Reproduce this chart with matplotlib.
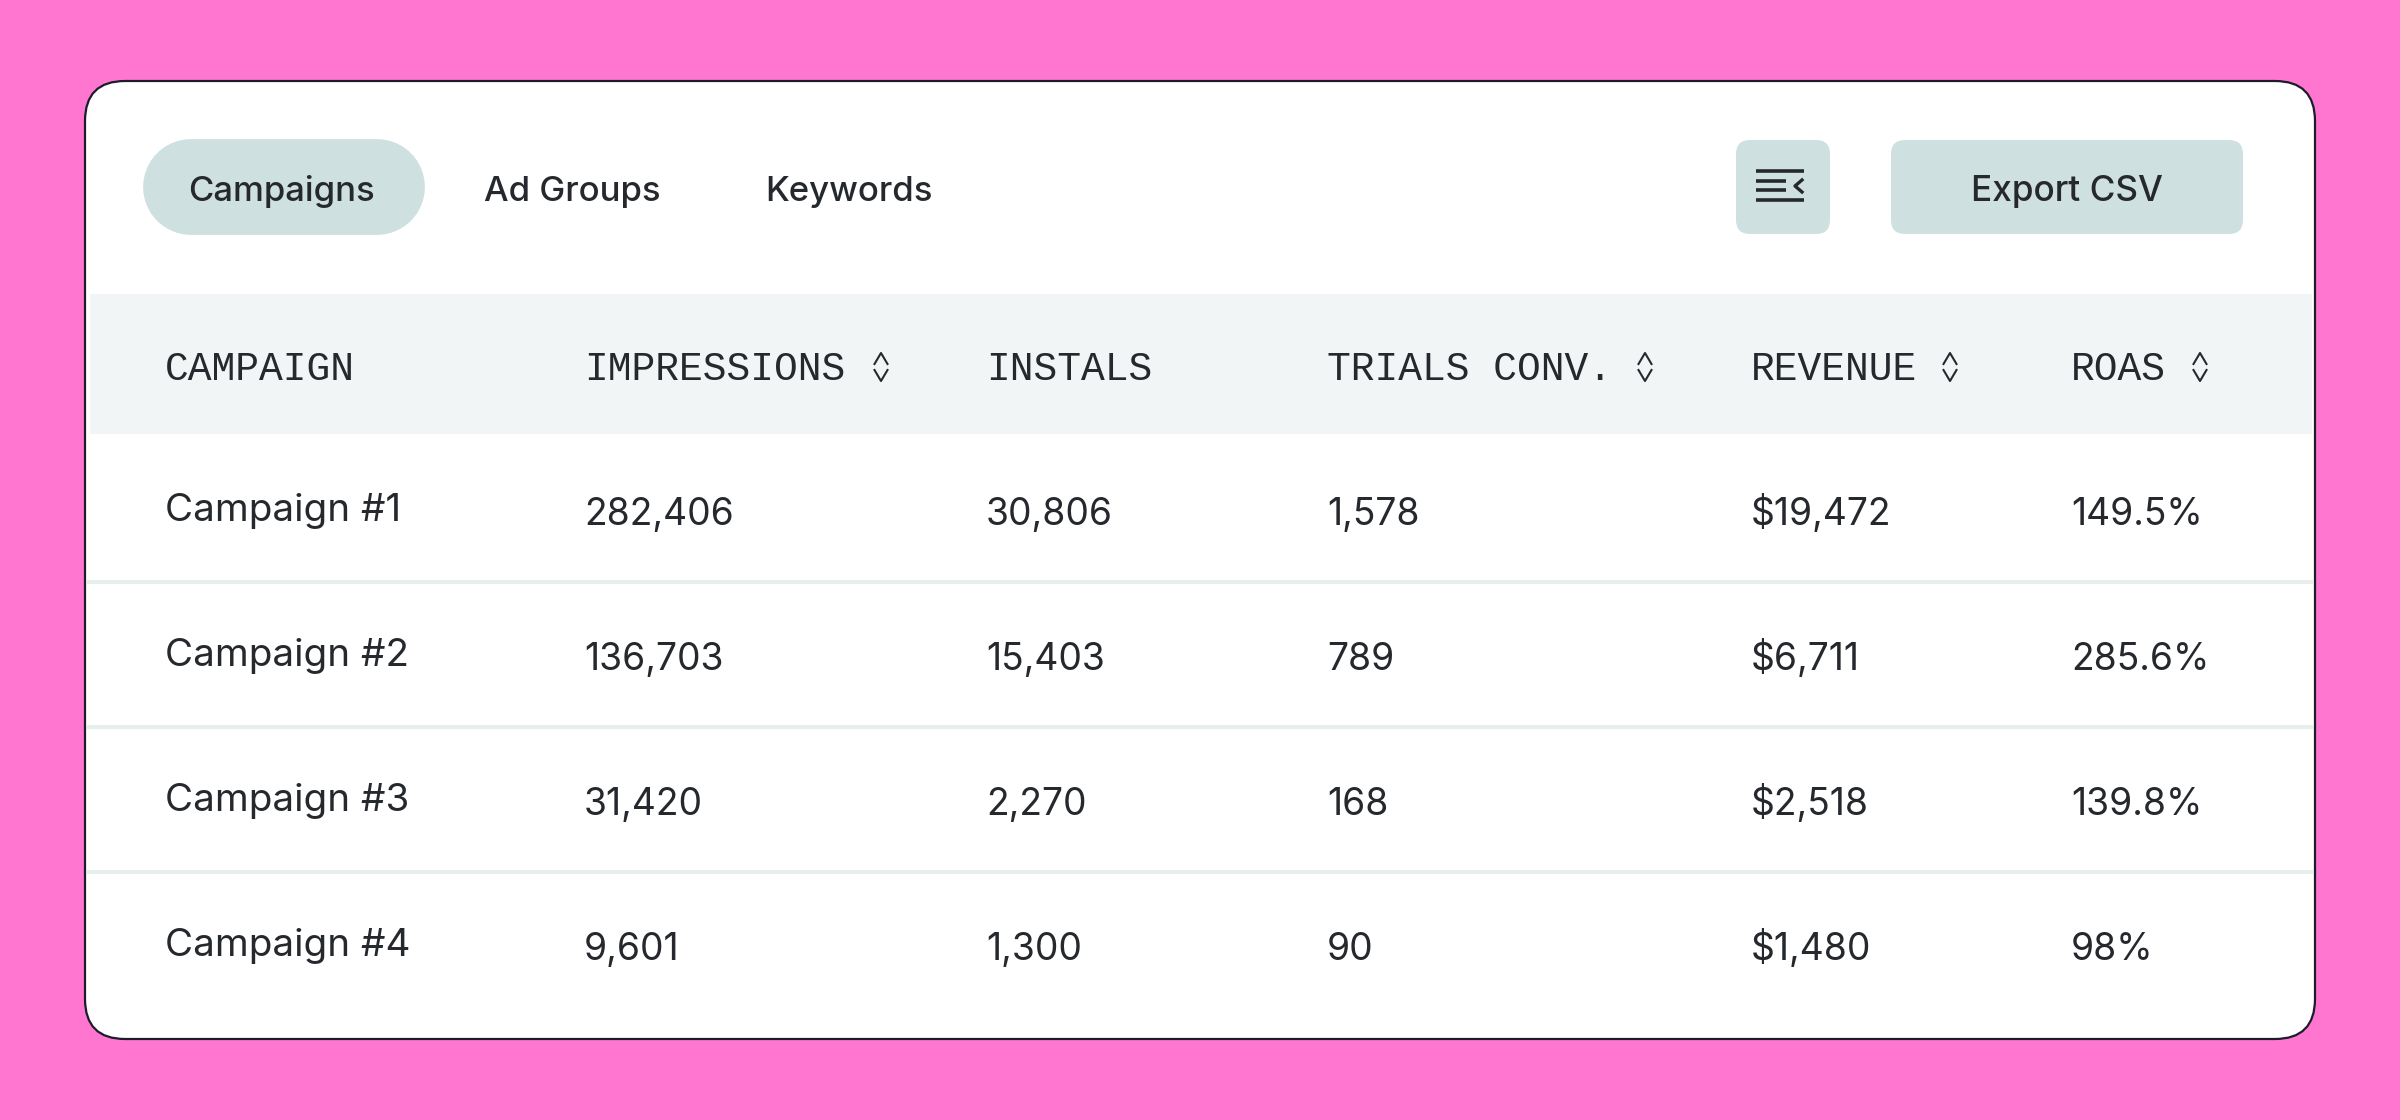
import matplotlib
matplotlib.use("Agg")
import matplotlib.pyplot as plt
from matplotlib.patches import FancyBboxPatch, Rectangle

# --- DATA ---
tabs = ["Campaigns", "Ad Groups", "Keywords"]
headers = ["CAMPAIGN", "IMPRESSIONS", "INSTALS", "TRIALS CONV.", "REVENUE", "ROAS"]
sortable = [False, True, False, True, True, True]

campaigns = ["Campaign #1", "Campaign #2", "Campaign #3", "Campaign #4"]
impressions = [282406, 136703, 31420, 9601]
instals = [30806, 15403, 2270, 1300]
trials = [1578, 789, 168, 90]
revenue = [19472, 6711, 2518, 1480]
roas = [149.5, 285.6, 139.8, 98]

# --- STYLE ---
PINK = "#FF76D1"
BUTTON = "#CFE0E1"
HEAD_BG = "#F1F5F6"
LINE = "#E6EFED"
INK = "#25292E"
BORDER = "#1E1C2C"

col_x = [165, 584, 986, 1327, 1751, 2071]
sort_x = [None, 881, None, 1645, 1950, 2200]
name_base = [521, 666, 811, 956]
value_base = [525, 670, 815, 960]
sep_y = [582, 727, 872]

plt.rcParams["font.family"] = ["Inter", "DejaVu Sans"]

fig = plt.figure(figsize=(24, 11.2), dpi=100, facecolor=PINK)
ax = fig.add_axes([0, 0, 1, 1])
ax.set_xlim(0, 2400)
ax.set_ylim(1120, 0)
ax.axis("off")


def rounded(x0, y0, x1, y1, r, **kw):
    ax.add_patch(FancyBboxPatch((x0, y0), x1 - x0, y1 - y0,
                                boxstyle=f"round,pad=0,rounding_size={r}", **kw))


# card
rounded(85, 81, 2315, 1039, 40, fc="white", ec=BORDER, lw=1.6, zorder=1)

# tabs and buttons, the active tab is a thick round-capped line (96 px tall)
ax.plot([191, 377], [187, 187], color=BUTTON, lw=69, solid_capstyle="round", zorder=2)
rounded(1736, 140, 1830, 234, 14, fc=BUTTON, ec="none", zorder=2)
rounded(1891, 140, 2243, 234, 14, fc=BUTTON, ec="none", zorder=2)

for label, x in zip(tabs, [188, 484, 765]):
    ax.text(x, 201, label, fontsize=25, fontweight="medium", color=INK, zorder=3)
ax.text(2067, 201, "Export CSV", fontsize=25.3, fontweight="medium", color=INK,
        ha="center", zorder=3)

# menu icon
for y, x1 in zip([171, 181, 190, 200], [1804, 1786, 1786, 1804]):
    ax.plot([1756, x1], [y, y], color=INK, lw=2.6, solid_capstyle="butt", zorder=3)
ax.plot([1802, 1795, 1802], [180, 186, 192], color=INK, lw=2.4, zorder=3)

# header band
ax.add_patch(Rectangle((90, 294), 2222, 140, fc=HEAD_BG, ec="none", zorder=2))
for label, x, flag, sx in zip(headers, col_x, sortable, sort_x):
    ax.text(x, 380, label, family="Liberation Mono", fontsize=28.5, color=INK, zorder=3)
    if flag:
        ax.plot([sx - 6.5, sx, sx + 6.5], [364, 353, 364], color=INK, lw=1.5, zorder=3)
        ax.plot([sx - 6.5, sx, sx + 6.5], [370, 381, 370], color=INK, lw=1.5, zorder=3)

# row separators
for y in sep_y:
    ax.plot([87, 2313], [y, y], color=LINE, lw=2.9, solid_capstyle="butt", zorder=2)

# rows
for i, name in enumerate(campaigns):
    ax.text(col_x[0], name_base[i], name, fontsize=27.8, color=INK, zorder=3)
    cells = [f"{impressions[i]:,}", f"{instals[i]:,}", f"{trials[i]:,}",
             f"${revenue[i]:,}", f"{roas[i]:g}%"]
    for x, cell in zip(col_x[1:], cells):
        ax.text(x, value_base[i], cell, fontsize=26.8, color=INK, zorder=3)

fig.savefig("out.png", dpi=100, facecolor=PINK)
